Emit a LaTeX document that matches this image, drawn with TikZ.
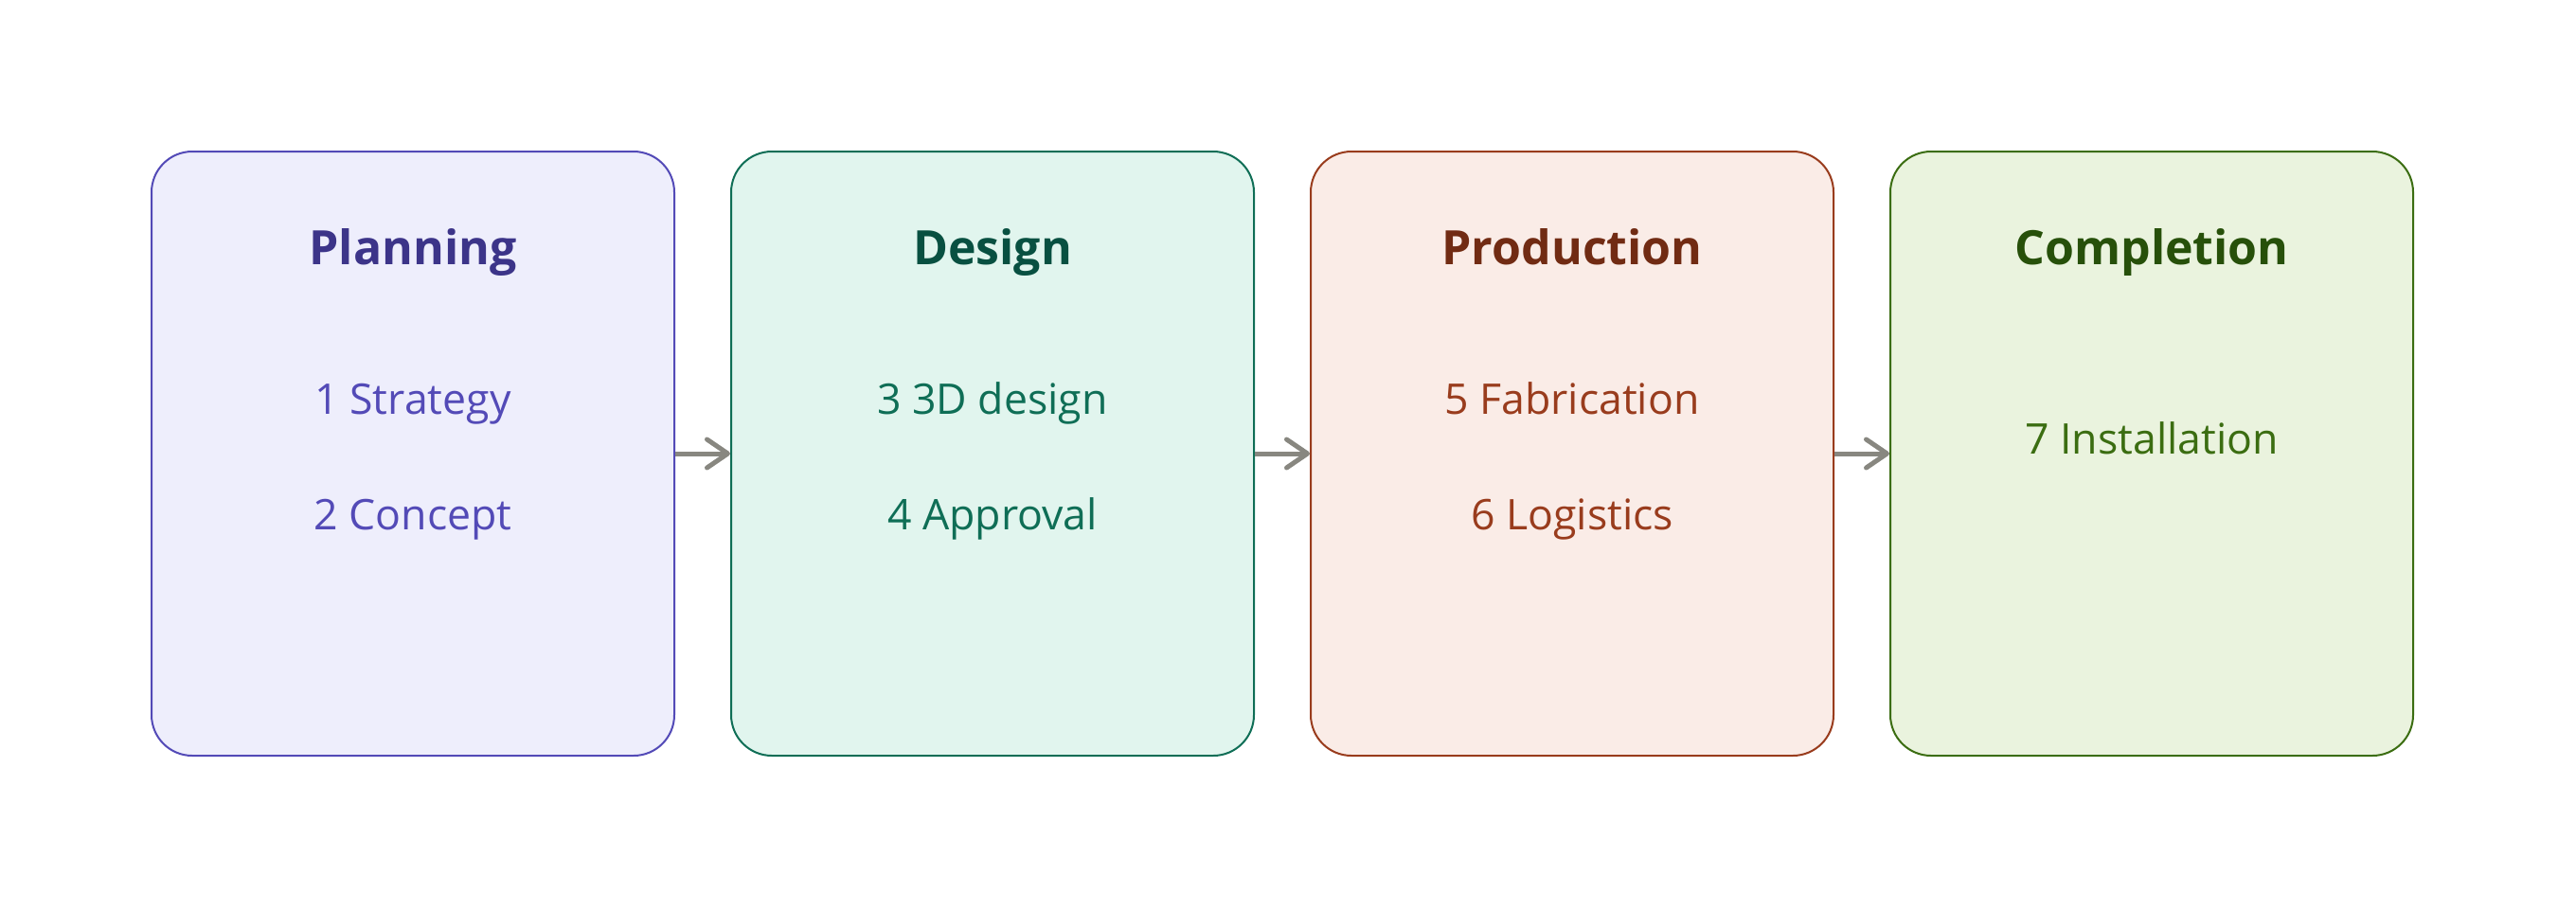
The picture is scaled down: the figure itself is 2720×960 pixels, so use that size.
\documentclass[tikz,border=0pt]{standalone}
\usepackage{fontspec}
\setmainfont{Open Sans}
\usetikzlibrary{arrows.meta}
\definecolor{pfill}{HTML}{EEEEFC}\definecolor{pdraw}{HTML}{534AB7}\definecolor{ptitle}{HTML}{3C3489}
\definecolor{dfill}{HTML}{E1F5EE}\definecolor{ddraw}{HTML}{0F6E56}\definecolor{dtitle}{HTML}{085041}
\definecolor{rfill}{HTML}{FAECE7}\definecolor{rdraw}{HTML}{993C1D}\definecolor{rtitle}{HTML}{712B13}
\definecolor{gfill}{HTML}{EAF3DE}\definecolor{gdraw}{HTML}{3B6D11}\definecolor{gtitle}{HTML}{27500A}
\definecolor{arrowgray}{HTML}{888780}
\tikzset{
  phase/.style={draw=#1draw, fill=#1fill, line width=1pt, rounded corners=21.5pt,
    minimum width=276pt, minimum height=319pt, inner sep=0pt},
  ttl/.style={text=#1title, font=\fontsize{25}{30}\selectfont\bfseries, text height=0.73em, text depth=0pt},
  itm/.style={text=#1draw, font=\fontsize{22.3}{26}\selectfont, text height=0.73em, text depth=0pt},
  flow/.style={draw=arrowgray, line width=2.5pt, -{Straight Barb[length=11pt,width=15pt,line cap=round,line join=round]}}
}
\begin{document}
\begin{tikzpicture}[x=0.5pt,y=-0.5pt]
\useasboundingbox (0,0) rectangle (2720,960);
\node[phase=p] (b1) at (436,479) {};
\node[phase=d] (b2) at (1048,479) {};
\node[phase=r] (b3) at (1660,479) {};
\node[phase=g] (b4) at (2272,479) {};
\node[ttl=p] (t1) at (436,272) {Planning};
\node[ttl=d] (t2) at (1048,272) {Design};
\node[ttl=r] (t3) at (1660,272) {Production};
\node[ttl=g] (t4) at (2272,272) {Completion};
\node[itm=p] (i1) at (436,430) {1 Strategy};
\node[itm=p] (i2) at (436,552) {2 Concept};
\node[itm=d] (i3) at (1048,430) {3 3D design};
\node[itm=d] (i4) at (1048,552) {4 Approval};
\node[itm=r] (i5) at (1660,430) {5 Fabrication};
\node[itm=r] (i6) at (1660,552) {6 Logistics};
\node[itm=g] (i7) at (2272,472) {7 Installation};
\draw[flow] (b1.east) -- (b2.west);
\draw[flow] (b2.east) -- (b3.west);
\draw[flow] (b3.east) -- (b4.west);
\end{tikzpicture}
\end{document}
